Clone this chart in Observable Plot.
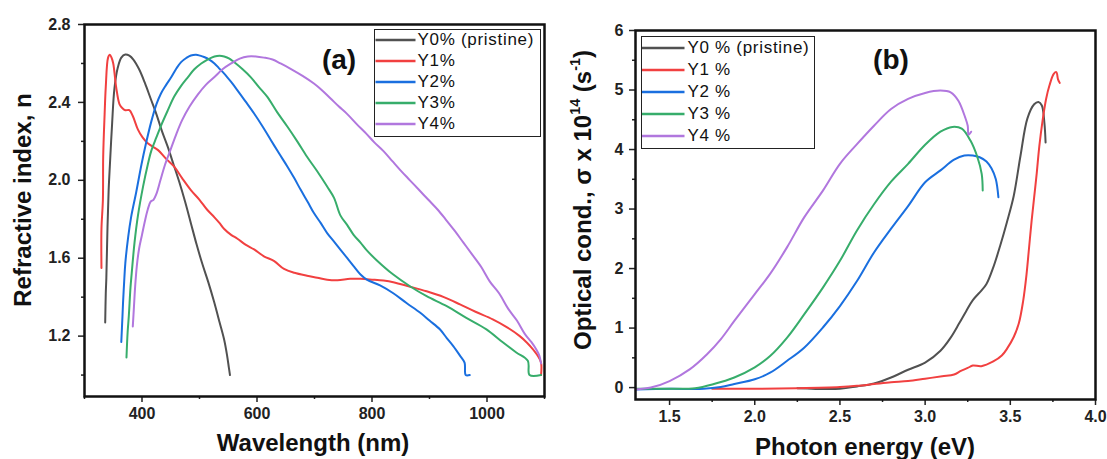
<!DOCTYPE html>
<html>
<head>
<meta charset="utf-8">
<script src="https://cdn.jsdelivr.net/npm/d3@7"></script>
<script src="https://cdn.jsdelivr.net/npm/@observablehq/plot@0.6"></script>
<style>
  body { margin: 0; background: #fff; }
  #wrap { position: relative; width: 1107px; height: 459px; overflow: hidden; background: #fff;
          font-family: "Liberation Sans", Arial, sans-serif; color: #111; }
  .panel { position: absolute; top: 0; }
  .title { position: absolute; font-weight: bold; font-size: 24px; white-space: nowrap;
           transform: translate(-50%, -50%); line-height: 1; color: #111; }
  .rot { transform: translate(-50%, -50%) rotate(-90deg); }
  .tag { position: absolute; font-weight: bold; font-size: 28px; transform: translate(-50%, -50%); line-height: 1; color: #111; }
  .legend { position: absolute; border: 1.5px solid #222; background: #fff; box-sizing: border-box; }
  .legend .row { position: absolute; left: 0; display: flex; align-items: center; height: 20px; transform: translateY(-50%);
                 font-size: 17px; letter-spacing: 0.7px; white-space: nowrap; color: #111; }
  .legend .row svg { display: block; }
  sup { font-size: 0.6em; line-height: 0; vertical-align: 0.75em; }
</style>
</head>
<body>
<div id="wrap"></div>
<script>
// ---------- Series names & colours ----------
const seriesA = ["Y0% (pristine)", "Y1%", "Y2%", "Y3%", "Y4%"];
const seriesB = ["Y0 % (pristine)", "Y1 %", "Y2 %", "Y3 %", "Y4 %"];
const seriesColors = ["#515151", "#F14040", "#1A6FDF", "#37AD6B", "#B177DE"];

// ---------- Panel (a): refractive index vs wavelength (nm) ----------
const a_Y0 = [[336,1.27],[337,1.42],[338,1.5],[340,1.76],[342,1.95],[344,2.07],[348,2.29],[352,2.47],[358,2.58],[364,2.63],[371,2.646],[378,2.64],[385,2.62],[395,2.57],[405,2.50],[415,2.42],[425,2.34],[435,2.25],[445,2.17],[455,2.08],[465,1.99],[475,1.89],[485,1.78],[495,1.67],[505,1.57],[515,1.48],[525,1.38],[535,1.27],[543,1.18],[548,1.10],[551,1.04],[553,1.0]];
const a_Y1 = [[329.5,1.55],[329.5,1.75],[332,1.9],[332.5,2.12],[335,2.34],[337,2.48],[341,2.63],[344,2.645],[347,2.63],[350,2.6],[355,2.48],[361,2.39],[366,2.37],[371,2.36],[378,2.36],[384,2.33],[393,2.26],[401,2.22],[410,2.19],[428,2.155],[442,2.11],[456,2.07],[470,2.01],[485,1.95],[500,1.9],[513,1.85],[526,1.81],[535,1.78],[543,1.75],[555,1.72],[566,1.70],[580,1.67],[595,1.645],[612,1.61],[630,1.585],[647,1.545],[665,1.525],[687,1.51],[705,1.50],[722,1.49],[740,1.487],[762,1.494],[780,1.494],[800,1.49],[820,1.485],[837,1.477],[865,1.455],[895,1.43],[925,1.40],[953,1.363],[980,1.325],[1010,1.286],[1035,1.245],[1057,1.20],[1070,1.165],[1080,1.132],[1088,1.10],[1094,1.064],[1094,1.0]];
const a_Y2 = [[364,1.17],[366,1.30],[367,1.37],[369,1.48],[371,1.575],[376,1.71],[381,1.81],[390,1.94],[399,2.08],[407,2.19],[416,2.30],[425,2.39],[433,2.446],[442,2.49],[451,2.53],[460,2.575],[468,2.607],[477,2.628],[485,2.641],[494,2.645],[501,2.64],[508,2.633],[517,2.62],[526,2.60],[534,2.575],[543,2.548],[555,2.505],[566,2.462],[580,2.405],[595,2.343],[610,2.275],[624,2.207],[638,2.14],[653,2.07],[665,2.01],[676,1.951],[688,1.89],[699,1.832],[711,1.78],[722,1.729],[734,1.685],[745,1.644],[757,1.60],[768,1.559],[780,1.516],[791,1.49],[814,1.46],[837,1.42],[860,1.37],[884,1.32],[900,1.28],[918,1.235],[930,1.19],[941,1.15],[953,1.1],[961,1.064],[963,1.0],[970,1.0]];
const a_Y3 = [[373,1.09],[375,1.22],[377,1.30],[380,1.45],[382,1.52],[387,1.68],[393,1.82],[402,1.97],[410,2.08],[416,2.15],[425,2.22],[433,2.28],[445,2.36],[456,2.43],[468,2.485],[480,2.53],[491,2.57],[503,2.60],[514,2.62],[526,2.636],[535,2.64],[543,2.636],[552,2.625],[560,2.607],[575,2.57],[589,2.53],[603,2.48],[618,2.428],[635,2.35],[653,2.275],[670,2.20],[687,2.121],[705,2.045],[722,1.968],[734,1.91],[745,1.82],[757,1.77],[768,1.72],[780,1.68],[791,1.64],[808,1.59],[837,1.516],[866,1.456],[895,1.405],[930,1.354],[964,1.294],[999,1.235],[1028,1.167],[1051,1.116],[1071,1.073],[1074,1.0],[1094,1.0]];
const a_Y4 = [[384,1.25],[386,1.35],[388,1.45],[391,1.56],[395,1.65],[400,1.72],[405,1.79],[410,1.85],[415,1.89],[420,1.90],[425,1.93],[432,2.00],[440,2.08],[450,2.16],[460,2.24],[470,2.31],[483,2.38],[497,2.44],[511,2.49],[526,2.53],[540,2.57],[555,2.60],[570,2.625],[584,2.636],[598,2.636],[612,2.63],[627,2.62],[641,2.60],[660,2.57],[680,2.535],[699,2.497],[712,2.465],[728,2.42],[742,2.38],[757,2.34],[773,2.29],[790,2.24],[804,2.195],[820,2.15],[835,2.10],[850,2.05],[866,2.0],[882,1.95],[898,1.90],[914,1.85],[928,1.80],[944,1.74],[959,1.68],[974,1.62],[990,1.555],[1005,1.48],[1021,1.42],[1037,1.34],[1052,1.28],[1066,1.21],[1077,1.17],[1086,1.13],[1091,1.10],[1094,1.06]];

const xTicksA = [400, 600, 800, 1000];
const xMinorA = [300, 500, 700, 900, 1100];
const yTicksA = [1.2, 1.6, 2.0, 2.4, 2.8];
const yMinorA = [1.0, 1.4, 1.8, 2.2, 2.6];

// ---------- Panel (b): optical conductivity vs photon energy (eV) ----------
const b_Y0 = [[2.25,-0.01],[2.5,-0.02],[2.6,0.02],[2.7,0.07],[2.8,0.17],[2.9,0.30],[3.0,0.42],[3.09,0.62],[3.15,0.84],[3.2,1.08],[3.24,1.28],[3.28,1.47],[3.33,1.63],[3.36,1.74],[3.40,2.02],[3.44,2.38],[3.48,2.78],[3.52,3.22],[3.56,3.90],[3.60,4.52],[3.64,4.76],[3.665,4.80],[3.685,4.74],[3.70,4.45],[3.707,4.12]];
const b_Y1 = [[1.75,-0.02],[2.0,-0.02],[2.25,-0.01],[2.5,0.01],[2.6,0.03],[2.7,0.06],[2.8,0.09],[2.9,0.11],[3.0,0.15],[3.1,0.19],[3.17,0.22],[3.21,0.28],[3.25,0.33],[3.28,0.37],[3.33,0.36],[3.4,0.44],[3.45,0.54],[3.48,0.65],[3.52,0.85],[3.55,1.08],[3.575,1.45],[3.595,1.9],[3.61,2.35],[3.625,2.8],[3.64,3.2],[3.655,3.6],[3.67,4.05],[3.69,4.5],[3.71,4.85],[3.73,5.08],[3.755,5.27],[3.77,5.30],[3.78,5.18],[3.79,5.12]];
const b_Y2 = [[1.3,-0.03],[1.5,-0.02],[1.7,-0.02],[1.8,0.01],[1.88,0.06],[2.0,0.14],[2.09,0.25],[2.19,0.45],[2.29,0.67],[2.4,1.01],[2.5,1.37],[2.6,1.79],[2.7,2.27],[2.8,2.67],[2.9,3.05],[3.0,3.45],[3.09,3.65],[3.17,3.83],[3.23,3.90],[3.28,3.90],[3.32,3.87],[3.36,3.80],[3.39,3.68],[3.415,3.50],[3.43,3.2]];
const b_Y3 = [[1.3,-0.02],[1.5,-0.02],[1.65,-0.01],[1.76,0.06],[1.88,0.17],[2.0,0.34],[2.09,0.53],[2.19,0.84],[2.29,1.23],[2.4,1.68],[2.5,2.13],[2.6,2.64],[2.7,3.08],[2.8,3.46],[2.9,3.76],[3.0,4.08],[3.09,4.30],[3.16,4.38],[3.215,4.35],[3.266,4.15],[3.307,3.87],[3.332,3.59],[3.338,3.31]];
const b_Y4 = [[1.3,-0.03],[1.39,0],[1.5,0.11],[1.62,0.31],[1.72,0.56],[1.8,0.81],[1.88,1.12],[2.0,1.57],[2.09,1.91],[2.19,2.36],[2.29,2.86],[2.4,3.31],[2.5,3.76],[2.6,4.09],[2.7,4.40],[2.8,4.68],[2.9,4.85],[3.0,4.95],[3.09,4.99],[3.15,4.96],[3.195,4.82],[3.235,4.54],[3.25,4.40],[3.255,4.25],[3.27,4.3]];

const xTicksB = [1.5, 2.0, 2.5, 3.0, 3.5, 4.0];
const xMinorB = [1.75, 2.25, 2.75, 3.25, 3.75];
const yTicksB = [0, 1, 2, 3, 4, 5, 6];
const yMinorB = [0.5, 1.5, 2.5, 3.5, 4.5, 5.5];

// ---------- Build tables ----------
function table(seriesNames, arrays) {
  const rows = [];
  arrays.forEach((arr, i) => arr.forEach(([x, y]) => rows.push({series: seriesNames[i], x, y})));
  return rows;
}
const dataA = table(seriesA, [a_Y0, a_Y1, a_Y2, a_Y3, a_Y4]);
const dataB = table(seriesB, [b_Y0, b_Y1, b_Y2, b_Y3, b_Y4]);

const wrap = document.getElementById("wrap");
const baseStyle = {fontFamily: "Liberation Sans, Arial, sans-serif", fontSize: "16px", fontWeight: "bold", color: "#222", background: "transparent", overflow: "visible"};

function panel(opts) {
  const chart = Plot.plot({
    width: opts.width, height: 459,
    marginLeft: opts.ml, marginRight: opts.mr, marginTop: opts.mt, marginBottom: opts.mb,
    style: baseStyle,
    x: {domain: opts.xd},
    y: {domain: opts.yd},
    color: {domain: opts.names, range: seriesColors},
    marks: [
      Plot.axisX(opts.xt, {tickSize: 6, tickPadding: 5, tickFormat: opts.xf, label: null, strokeWidth: 1.5}),
      Plot.axisX(opts.xm, {tickSize: 3, tickFormat: () => "", label: null, strokeWidth: 1.5}),
      Plot.axisY(opts.yt, {tickSize: 6, tickPadding: opts.ypad, tickFormat: opts.yf, label: null, strokeWidth: 1.5}),
      Plot.axisY(opts.ym, {tickSize: 3, tickFormat: () => "", label: null, strokeWidth: 1.5}),
      Plot.line(opts.data, {x: "x", y: "y", z: "series", stroke: "series", strokeWidth: 2, curve: "catmull-rom", clip: true}),
      Plot.frame({stroke: "#111", strokeWidth: 2.5})
    ]
  });
  chart.classList.add("panel");
  chart.style.left = opts.left + "px";
  wrap.appendChild(chart);
}

panel({width: 555, left: 0, ml: 84, mr: 11, mt: 24, mb: 63, xd: [300, 1100], yd: [0.89, 2.8],
       xt: xTicksA, xm: xMinorA, yt: yTicksA, ym: yMinorA, xf: d3.format("d"), yf: d3.format(".1f"), ypad: 8,
       names: seriesA, data: dataA});
panel({width: 552, left: 555, ml: 80, mr: 12, mt: 30, mb: 60, xd: [1.3, 4.0], yd: [-0.2, 6],
       xt: xTicksB, xm: xMinorB, yt: yTicksB, ym: yMinorB, xf: d3.format(".1f"), yf: d3.format("d"), ypad: 6,
       names: seriesB, data: dataB});

// ---------- Titles ----------
function addDiv(cls, html, x, y) {
  const d = document.createElement("div");
  d.className = cls;
  d.innerHTML = html;
  d.style.left = x + "px";
  d.style.top = y + "px";
  wrap.appendChild(d);
  return d;
}
addDiv("title", "Wavelength (nm)", 313, 443);
addDiv("title", "Photon energy (eV)", 865, 447);
addDiv("title rot", "Refractive index, n", 23, 200);
addDiv("title rot", "Optical cond., σ x 10<sup>14</sup> (s<sup>-1</sup>)", 583, 200);
addDiv("tag", "(a)", 339, 60);
addDiv("tag", "(b)", 891, 60);

// ---------- Legends ----------
function legend(names, box, rowTop, rowStep, lineX0, lineX1, textX) {
  const lg = document.createElement("div");
  lg.className = "legend";
  lg.style.left = box[0] + "px"; lg.style.top = box[1] + "px";
  lg.style.width = (box[2] - box[0]) + "px"; lg.style.height = (box[3] - box[1]) + "px";
  names.forEach((n, i) => {
    const r = document.createElement("div");
    r.className = "row";
    r.style.top = (rowTop + i * rowStep - box[1] - 1.5) + "px";
    const w = lineX1 - box[0] - 1.5;
    r.innerHTML = `<svg width="${w}" height="6"><line x1="${lineX0 - box[0] - 1.5}" x2="${w}" y1="3" y2="3" stroke="${seriesColors[i]}" stroke-width="2.5"/></svg><span style="margin-left:${textX - lineX1}px">${n}</span>`;
    lg.appendChild(r);
  });
  wrap.appendChild(lg);
}
legend(seriesA, [374, 29, 541, 137], 40, 21.2, 376, 416, 418);
legend(seriesB, [641, 36, 815, 149], 48.5, 22, 642, 685, 688);
</script>
</body>
</html>
